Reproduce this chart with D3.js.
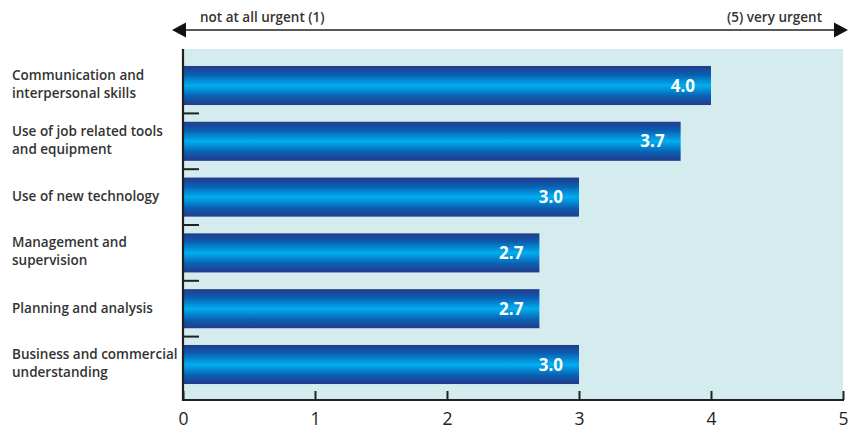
<!DOCTYPE html>
<html>
<head>
<meta charset="utf-8">
<script src="https://cdn.jsdelivr.net/npm/d3@7"></script>
<style>
  html, body { margin: 0; padding: 0; background: #fff; }
  svg { display: block; font-family: "Open Sans", sans-serif; }
</style>
</head>
<body>
<svg id="chart" width="851" height="430"></svg>
<script>
const categories = [
  ["Communication and", "interpersonal skills"],
  ["Use of job related tools", "and equipment"],
  ["Use of new technology"],
  ["Management and", "supervision"],
  ["Planning and analysis"],
  ["Business and commercial", "understanding"]
];
const values = [4.0, 3.77, 3.0, 2.7, 2.7, 3.0];
const valueLabels = ["4.0", "3.7", "3.0", "2.7", "2.7", "3.0"];
const xTicks = [0, 1, 2, 3, 4, 5];
const scaleLeft = "not at all urgent (1)";
const scaleRight = "(5) very urgent";

const svg = d3.select("#chart");
const x0 = 183, x1 = 843, yTop = 49, yBottom = 400;

const x = d3.scaleLinear().domain([0, 5]).range([x0, x1]);
const y = d3.scaleBand().domain(d3.range(categories.length))
  .range([57.6, 392.4]).paddingInner(0.3).paddingOuter(0.15);

// gradient
const defs = svg.append("defs");
const grad = defs.append("linearGradient").attr("id", "barGrad")
  .attr("x1", 0).attr("y1", 0).attr("x2", 0).attr("y2", 1);
grad.append("stop").attr("offset", "0%").attr("stop-color", "#243a8a");
grad.append("stop").attr("offset", "22%").attr("stop-color", "#0a5fb2");
grad.append("stop").attr("offset", "50%").attr("stop-color", "#00aeef");
grad.append("stop").attr("offset", "78%").attr("stop-color", "#0a5fb2");
grad.append("stop").attr("offset", "100%").attr("stop-color", "#243a8a");

// background
svg.append("rect").attr("x", x0).attr("y", yTop)
  .attr("width", x1 - x0).attr("height", yBottom - yTop)
  .attr("fill", "#d5ecee");

// bars
const step = y.step();
svg.selectAll("rect.bar").data(values).join("rect")
  .attr("class", "bar")
  .attr("x", x(0))
  .attr("y", (d, i) => y(i))
  .attr("width", d => x(d) - x(0))
  .attr("height", y.bandwidth())
  .attr("fill", "url(#barGrad)");

svg.selectAll("text.val").data(values).join("text")
  .attr("class", "val")
  .attr("x", d => x(d) - 16)
  .attr("y", (d, i) => y(i) + y.bandwidth() / 2)
  .attr("dy", "0.36em")
  .attr("text-anchor", "end")
  .attr("fill", "#fff")
  .attr("font-size", 17)
  .attr("font-weight", 700)
  .text((d, i) => valueLabels[i]);

// category labels
const lab = svg.selectAll("text.cat").data(categories).join("text")
  .attr("class", "cat")
  .attr("fill", "#333")
  .attr("font-size", 13.5)
  .attr("font-weight", 600);
lab.each(function(lines, i) {
  const cy = y(i) + y.bandwidth() / 2;
  const lh = 18;
  const start = cy + 4 - (lines.length - 1) * lh / 2 - (lines.length > 1 ? 0.5 : 0);
  d3.select(this).selectAll("tspan").data(lines).join("tspan")
    .attr("x", 12)
    .attr("y", (l, j) => start + j * lh)
    .text(l => l);
});

// left axis with ticks between bands
const yAxis = svg.append("g");
yAxis.append("line").attr("x1", x0).attr("x2", x0).attr("y1", yTop).attr("y2", yBottom + 1)
  .attr("stroke", "#222").attr("stroke-width", 2.2);
const seps = d3.range(1, categories.length).map(i => y(i) - (step - y.bandwidth()) / 2);
yAxis.selectAll("line.sep").data(seps).join("line")
  .attr("class", "sep")
  .attr("x1", x0).attr("x2", x0 + 16)
  .attr("y1", d => d).attr("y2", d => d)
  .attr("stroke", "#222").attr("stroke-width", 2);

// bottom axis
const xAxis = d3.axisBottom(x).tickValues(xTicks).tickFormat(d3.format("d"))
  .tickSizeInner(-9).tickSizeOuter(0).tickPadding(12.5);
const gx = svg.append("g").attr("transform", `translate(0,${yBottom})`).call(xAxis);
gx.select(".domain").attr("stroke", "#222").attr("stroke-width", 2.2)
  .attr("d", `M${x0 - 1},0H${x1 + 1}`);
gx.selectAll(".tick line").attr("stroke", "#222").attr("stroke-width", 2);
gx.selectAll(".tick text").attr("fill", "#222").attr("font-size", 17.5)
  .attr("font-family", "Open Sans, sans-serif");

// top scale arrow
const ay = 30;
svg.append("line").attr("x1", 184).attr("x2", 836).attr("y1", ay).attr("y2", ay)
  .attr("stroke", "#222").attr("stroke-width", 1.6);
svg.append("path").attr("d", `M172,${ay}L186,${ay - 7.5}L186,${ay + 7.5}Z`).attr("fill", "#111");
svg.append("path").attr("d", `M848,${ay}L834,${ay - 7.5}L834,${ay + 7.5}Z`).attr("fill", "#111");
svg.append("text").attr("x", 200).attr("y", 22).attr("font-size", 13.5).attr("font-weight", 600)
  .attr("fill", "#333").text(scaleLeft);
svg.append("text").attr("x", 822).attr("y", 22).attr("text-anchor", "end").attr("font-size", 13.5)
  .attr("font-weight", 600).attr("fill", "#333").text(scaleRight);
</script>
</body>
</html>
